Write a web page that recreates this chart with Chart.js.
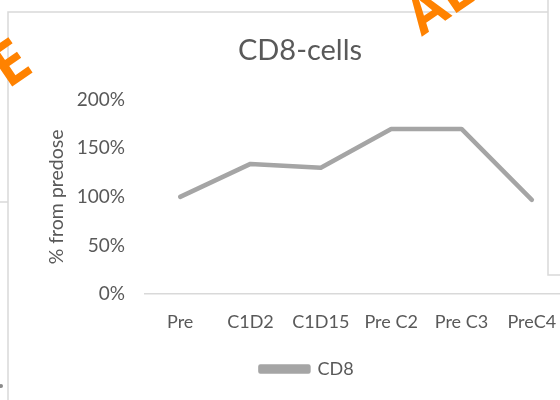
<!DOCTYPE html>
<html>
<head>
<meta charset="utf-8">
<script src="https://cdn.jsdelivr.net/npm/chart.js@4/dist/chart.umd.min.js"></script>
<style>
  html, body { margin: 0; padding: 0; background: #ffffff; overflow: hidden; width: 560px; height: 400px; }
  #wrap { position: absolute; left: 0; top: 0; width: 600px; height: 400px; }
</style>
</head>
<body>
<div id="wrap"><canvas id="c" width="600" height="400"></canvas></div>
<script>
// Visits and CD8 change from predose (%)
const categories = ['Pre', 'C1D2', 'C1D15', 'Pre C2', 'Pre C3', 'PreC4'];
const cd8Values = [100, 134, 130, 170, 170, 97];
const yTicks = [0, 50, 100, 150, 200];

const TEXT = '#595959';
const LINE = '#a5a5a5';
const RULE = '#d9d9d9';
const FONT = 'Lato, "Open Sans", sans-serif';

// Slide frame lines and the orange lettering around the chart
const slideBackdrop = {
  id: 'slideBackdrop',
  afterLayout(chart) {
    // nudge the legend a little to the right of centre
    if (chart.legend) {
      chart.legend.left += 7;
      chart.legend.right += 7;
    }
  },
  beforeDraw(chart) {
    const ctx = chart.ctx;
    ctx.save();
    ctx.fillStyle = '#ffffff';
    ctx.fillRect(0, 0, chart.width, chart.height);
    ctx.strokeStyle = RULE;
    ctx.lineWidth = 1.5;
    ctx.beginPath();
    ctx.moveTo(8, 400); ctx.lineTo(8, 12); ctx.lineTo(548, 12);
    ctx.moveTo(548, 0); ctx.lineTo(548, 275); ctx.lineTo(600, 275);
    ctx.moveTo(0, 202); ctx.lineTo(8, 202);
    ctx.stroke();
    ctx.fillStyle = '#8a8a8a';
    ctx.beginPath();
    ctx.arc(1, 386, 2, 0, Math.PI * 2);
    ctx.fill();

    ctx.fillStyle = '#ff8200';
    ctx.font = 'bold 60px "Open Sans", sans-serif';
    ctx.textAlign = 'center';
    ctx.textBaseline = 'middle';
    ctx.translate(12, 66);
    ctx.rotate(-0.6);
    ctx.fillText('E', 0, 0);
    ctx.restore();

    ctx.save();
    ctx.fillStyle = '#ff8200';
    ctx.font = 'bold 54px "Open Sans", sans-serif';
    ctx.textAlign = 'left';
    ctx.textBaseline = 'middle';
    ctx.translate(413, 24);
    ctx.rotate(-0.6);
    ctx.fillText('AE', 0, 0);
    ctx.restore();
  }
};

new Chart(document.getElementById('c'), {
  type: 'line',
  data: {
    labels: categories,
    datasets: [{
      label: 'CD8',
      data: cd8Values,
      borderColor: LINE,
      backgroundColor: LINE,
      borderWidth: 4.5,
      borderCapStyle: 'round',
      borderJoinStyle: 'round',
      pointRadius: 0,
      pointHoverRadius: 0,
      tension: 0,
      fill: false
    }]
  },
  options: {
    responsive: false,
    animation: false,
    events: [],
    layout: { padding: { left: 33, right: 33, top: 33, bottom: 12 } },
    plugins: {
      title: {
        display: true,
        text: 'CD8-cells',
        color: TEXT,
        font: { family: FONT, size: 29, weight: 'normal' },
        padding: { top: 0, bottom: 32 }
      },
      legend: {
        display: true,
        position: 'bottom',
        labels: {
          color: TEXT,
          font: { family: FONT, size: 18 },
          boxWidth: 48,
          boxHeight: 5,
          padding: 8
        }
      },
      tooltip: { enabled: false }
    },
    scales: {
      x: {
        offset: true,
        grid: { display: false, drawTicks: false },
        border: { display: true, color: RULE, width: 1.5 },
        ticks: {
          color: TEXT,
          font: { family: FONT, size: 18 },
          padding: 17,
          maxRotation: 0,
          autoSkip: false
        },
        afterFit(scale) { scale.height = 58; }
      },
      y: {
        min: 0,
        max: 200,
        afterBuildTicks(scale) { scale.ticks = yTicks.map(v => ({ value: v })); },
        grid: { display: false, drawTicks: false },
        border: { display: false },
        ticks: {
          color: TEXT,
          font: { family: FONT, size: 19 },
          padding: 20,
          callback: v => v + '%'
        },
        title: {
          display: true,
          text: '% from predose',
          color: TEXT,
          font: { family: FONT, size: 19.5 },
          padding: { top: 12, bottom: 0 }
        },
        afterFit(scale) { scale.width = 112; }
      }
    }
  },
  plugins: [slideBackdrop]
});
</script>
</body>
</html>
